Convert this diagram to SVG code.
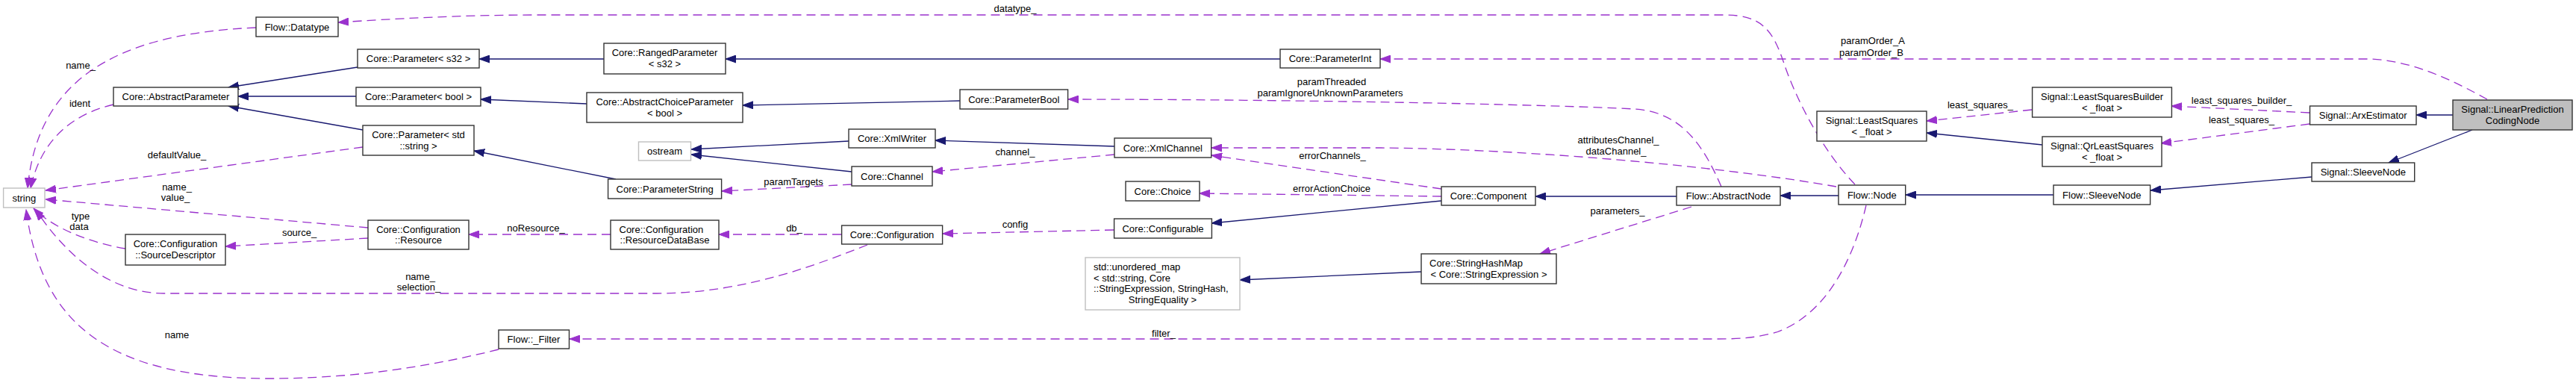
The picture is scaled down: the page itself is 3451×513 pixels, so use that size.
<svg xmlns="http://www.w3.org/2000/svg" width="3451" height="513" viewBox="0 0 3451 513">
<style>
text{font-family:"Liberation Sans",Arial,Helvetica,sans-serif;font-size:13px;fill:#000}
.c{text-anchor:middle}
.n rect{fill:#fff;stroke:#333;stroke-width:1.4}
.g rect{fill:#fff;stroke:#bfbfbf;stroke-width:1.4}
.h rect{fill:#bfbfbf;stroke:#333;stroke-width:1.4}
.inh{stroke:#191970;stroke-width:1.3;fill:none;marker-end:url(#ab)}
.use{stroke:#9a32cd;stroke-width:1.3;fill:none;stroke-dasharray:12,7;marker-end:url(#ap)}
</style>
<defs>
<marker id="ab" markerUnits="userSpaceOnUse" markerWidth="15" markerHeight="11" refX="14" refY="5.5" orient="auto" viewBox="0 0 15 11"><path d="M0,0.5 L14,5.5 L0,10.5 z" fill="#191970" stroke="#191970" stroke-width="1"/></marker>
<marker id="ap" markerUnits="userSpaceOnUse" markerWidth="15" markerHeight="11" refX="14" refY="5.5" orient="auto" viewBox="0 0 15 11"><path d="M0,0.5 L14,5.5 L0,10.5 z" fill="#9a32cd" stroke="#9a32cd" stroke-width="1"/></marker>
</defs>
<rect width="3451" height="513" fill="#fff"/>
<g id="connectors">
<path class="inh" d="M479,90 L306,117"/>
<path class="inh" d="M477,129 L319,129"/>
<path class="inh" d="M486,174 L306,142"/>
<path class="inh" d="M809,79 L642,79"/>
<path class="inh" d="M786,139 L644,133"/>
<path class="inh" d="M825,240 L635,202"/>
<path class="inh" d="M1715,79 L972,79"/>
<path class="inh" d="M1286,135 L995,141"/>
<path class="inh" d="M1137,189 L926,200"/>
<path class="inh" d="M1141,230 L926,207"/>
<path class="inh" d="M1493,196 L1253,188"/>
<path class="inh" d="M1931,269 L1623,299"/>
<path class="inh" d="M2246,263 L2057,263"/>
<path class="inh" d="M1904,364 L1661,375"/>
<path class="inh" d="M2463,262 L2385,262"/>
<path class="inh" d="M2751,261 L2553,261"/>
<path class="inh" d="M2736,194 L2581,178"/>
<path class="inh" d="M3097,237 L2881,255"/>
<path class="inh" d="M3286,154 L3237,154"/>
<path class="inh" d="M3312,174 L3200,218"/>

<path class="use" d="M343,37 C150,45 50,110 37,252"/>
<path class="use" d="M152,140 C100,152 55,185 41,252"/>
<path class="use" d="M486,197 L61,255"/>
<path class="use" d="M493,305 L61,267"/>
<path class="use" d="M168,333 C120,325 70,305 45,279"/>
<path class="use" d="M493,319 L302,330"/>
<path class="use" d="M1162,328 C1100,352 1000,393 880,393 L220,393 C150,393 90,345 48,281"/>
<path class="use" d="M668,468 C560,495 460,507 360,507 C140,507 55,430 35,281"/>
<path class="use" d="M818,314 L628,314"/>
<path class="use" d="M1127,314 L963,314"/>
<path class="use" d="M1492,308 L1263,313"/>
<path class="use" d="M1493,207 L1249,230"/>
<path class="use" d="M1141,247 L967,256"/>
<path class="use" d="M1931,253 L1623,208"/>
<path class="use" d="M1931,263 L1607,259"/>
<path class="use" d="M2460,250 C2300,222 2050,200 1850,198 L1623,198"/>
<path class="use" d="M2306,250 C2280,190 2250,150 2190,146 C2050,139 1700,133 1431,133"/>
<path class="use" d="M2266,277 L2063,340"/>
<path class="use" d="M2485,247 C2440,200 2405,130 2390,85 C2375,40 2360,20 2310,20 L720,20 C620,20 530,25 453,30"/>
<path class="use" d="M2500,275 C2485,340 2450,420 2380,445 C2350,453 2330,454 2300,454 L763,454"/>
<path class="use" d="M3332,133 C3290,110 3230,79 3170,79 L1849,79"/>
<path class="use" d="M3094,151 L2909,142"/>
<path class="use" d="M3094,166 L2895,192"/>
<path class="use" d="M2722,147 L2581,162"/>

<text class="c" x="108" y="92">name_</text>
<text class="c" x="107" y="143">ident</text>
<text class="c" x="237" y="212">defaultValue_</text>
<text class="c" x="237" y="255">name_</text>
<text class="c" x="235" y="269">value_</text>
<text class="c" x="108" y="294">type</text>
<text class="c" x="106" y="308">data</text>
<text class="c" x="401" y="316">source_</text>
<text class="c" x="563" y="375">name_</text>
<text class="c" x="561" y="389">selection_</text>
<text class="c" x="237" y="453">name</text>
<text class="c" x="718" y="310">noResource_</text>
<text class="c" x="1064" y="310">db_</text>
<text class="c" x="1063" y="248">paramTargets</text>
<text class="c" x="1360" y="305">config</text>
<text class="c" x="1360" y="208">channel_</text>
<text class="c" x="1360" y="16">datatype_</text>
<text class="c" x="1559" y="451">filter_</text>
<text class="c" x="1785" y="213">errorChannels_</text>
<text class="c" x="1784" y="257">errorActionChoice</text>
<text class="c" x="1784" y="114">paramThreaded</text>
<text class="c" x="1782" y="129">paramIgnoreUnknownParameters</text>
<text class="c" x="2168" y="192">attributesChannel_</text>
<text class="c" x="2165" y="207">dataChannel_</text>
<text class="c" x="2167" y="287">parameters_</text>
<text class="c" x="2509" y="59">paramOrder_A</text>
<text class="c" x="2507" y="75">paramOrder_B</text>
<text class="c" x="2653" y="145">least_squares_</text>
<text class="c" x="3003" y="139">least_squares_builder_</text>
<text class="c" x="3003" y="165">least_squares_</text>
</g>

<g id="node-lpc" class="h"><rect x="3286" y="134" width="160" height="40"/><text class="c" x="3366" y="151">Signal::LinearPrediction</text><text class="c" x="3366" y="165.5">CodingNode</text></g>
<g id="node-arx" class="n"><rect x="3094.5" y="142" width="142.5" height="25"/><text class="c" x="3165.7" y="159">Signal::ArxEstimator</text></g>
<g id="node-signal-sleeve" class="n"><rect x="3097" y="218" width="137.7" height="25"/><text class="c" x="3165.8" y="235">Signal::SleeveNode</text></g>
<g id="node-lsbuilder" class="n"><rect x="2722.6" y="117" width="186.8" height="40"/><text class="c" x="2816" y="134">Signal::LeastSquaresBuilder</text><text class="c" x="2816" y="148.5">&lt; _float &gt;</text></g>
<g id="node-qrls" class="n"><rect x="2736" y="183" width="160" height="40"/><text class="c" x="2816" y="200">Signal::QrLeastSquares</text><text class="c" x="2816" y="214.5">&lt; _float &gt;</text></g>
<g id="node-ls" class="n"><rect x="2434" y="149" width="147" height="40"/><text class="c" x="2507.5" y="166">Signal::LeastSquares</text><text class="c" x="2507.5" y="180.5">&lt; _float &gt;</text></g>
<g id="node-flow-sleeve" class="n"><rect x="2751" y="248" width="129.6" height="26"/><text class="c" x="2815.8" y="265.5">Flow::SleeveNode</text></g>
<g id="node-flow-node" class="n"><rect x="2463" y="248" width="89.7" height="26"/><text class="c" x="2507.8" y="265.5">Flow::Node</text></g>
<g id="node-abstractnode" class="n"><rect x="2246" y="250" width="139" height="25"/><text class="c" x="2315.5" y="267">Flow::AbstractNode</text></g>
<g id="node-component" class="n"><rect x="1931" y="250" width="126" height="25"/><text class="c" x="1994" y="267">Core::Component</text></g>
<g id="node-stringhashmap" class="n"><rect x="1904" y="340" width="181" height="40"/><text x="1915" y="357">Core::StringHashMap</text><text class="c" x="1994.5" y="371.5">&lt; Core::StringExpression &gt;</text></g>
<g id="node-paramint" class="n"><rect x="1715" y="66" width="134" height="25"/><text class="c" x="1782" y="83">Core::ParameterInt</text></g>
<g id="node-parambool" class="n"><rect x="1286" y="120" width="144.6" height="26"/><text class="c" x="1358.3" y="137.5">Core::ParameterBool</text></g>
<g id="node-xmlchannel" class="n"><rect x="1493" y="185" width="129.7" height="26"/><text class="c" x="1557.8" y="202.5">Core::XmlChannel</text></g>
<g id="node-choice" class="n"><rect x="1508" y="243" width="99" height="26"/><text class="c" x="1557.5" y="260.5">Core::Choice</text></g>
<g id="node-configurable" class="n"><rect x="1492.6" y="293" width="130.8" height="26"/><text class="c" x="1558" y="310.5">Core::Configurable</text></g>
<g id="node-unordered-map" class="g"><rect x="1454" y="345" width="207" height="70"/><text x="1465" y="362">std::unordered_map</text><text x="1465" y="376.5">&lt; std::string, Core</text><text x="1465" y="391">::StringExpression, StringHash,</text><text class="c" x="1557.5" y="405.5">StringEquality &gt;</text></g>
<g id="node-xmlwriter" class="n"><rect x="1137" y="173" width="116" height="25"/><text class="c" x="1195" y="190">Core::XmlWriter</text></g>
<g id="node-channel" class="n"><rect x="1141" y="223" width="108" height="26"/><text class="c" x="1195" y="240.5">Core::Channel</text></g>
<g id="node-configuration" class="n"><rect x="1127.6" y="302" width="135" height="25"/><text class="c" x="1195" y="319">Core::Configuration</text></g>
<g id="node-rangedparam" class="n"><rect x="809" y="58" width="163" height="41"/><text class="c" x="890.5" y="75">Core::RangedParameter</text><text class="c" x="890.5" y="89.5">&lt; s32 &gt;</text></g>
<g id="node-abstractchoice" class="n"><rect x="786" y="124" width="209" height="40"/><text class="c" x="890.5" y="141">Core::AbstractChoiceParameter</text><text class="c" x="890.5" y="155.5">&lt; bool &gt;</text></g>
<g id="node-ostream" class="g"><rect x="855.5" y="190" width="70" height="25"/><text class="c" x="890.5" y="207">ostream</text></g>
<g id="node-paramstring" class="n"><rect x="814.6" y="240" width="152" height="26"/><text class="c" x="890.6" y="257.5">Core::ParameterString</text></g>
<g id="node-resourcedb" class="n"><rect x="818" y="295" width="145" height="39"/><text x="829.5" y="311.5">Core::Configuration</text><text class="c" x="890.5" y="326">::ResourceDataBase</text></g>
<g id="node-filter" class="n"><rect x="668" y="442" width="94.5" height="25"/><text class="c" x="715" y="459">Flow::_Filter</text></g>
<g id="node-datatype" class="n"><rect x="343" y="23" width="110" height="26"/><text class="c" x="398" y="40.5">Flow::Datatype</text></g>
<g id="node-param-s32" class="n"><rect x="479" y="66" width="163" height="25"/><text class="c" x="560.5" y="83">Core::Parameter&lt; s32 &gt;</text></g>
<g id="node-param-bool" class="n"><rect x="477" y="117" width="167" height="25"/><text class="c" x="560.5" y="134">Core::Parameter&lt; bool &gt;</text></g>
<g id="node-param-string" class="n"><rect x="486" y="168" width="149" height="40"/><text class="c" x="560.5" y="185">Core::Parameter&lt; std</text><text class="c" x="560.5" y="199.5">::string &gt;</text></g>
<g id="node-abstractparam" class="n"><rect x="152" y="117" width="167" height="25"/><text class="c" x="235.5" y="134">Core::AbstractParameter</text></g>
<g id="node-string" class="g"><rect x="4.6" y="252" width="55.4" height="26"/><text class="c" x="32.3" y="269.5">string</text></g>
<g id="node-sourcedesc" class="n"><rect x="168" y="314" width="134" height="41"/><text class="c" x="235" y="331">Core::Configuration</text><text class="c" x="235" y="345.5">::SourceDescriptor</text></g>
<g id="node-resource" class="n"><rect x="493" y="295" width="135" height="39"/><text class="c" x="560.5" y="311.5">Core::Configuration</text><text class="c" x="560.5" y="326">::Resource</text></g>
</svg>
